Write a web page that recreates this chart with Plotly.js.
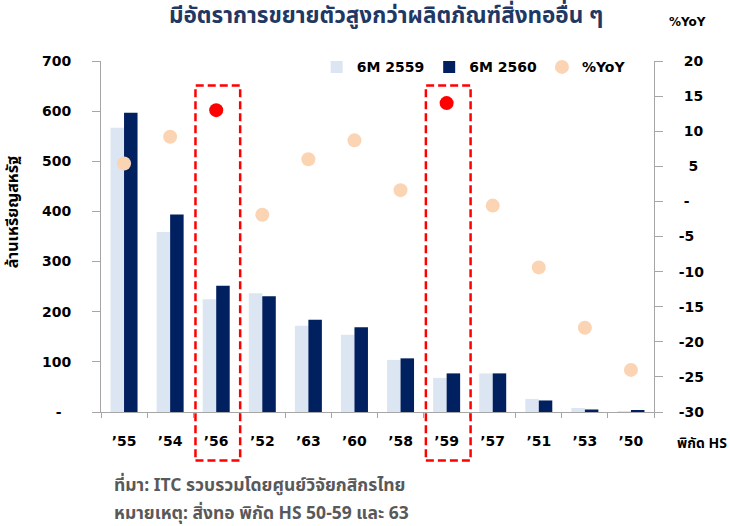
<!DOCTYPE html>
<html>
<head>
<meta charset="utf-8">
<script src="https://cdn.plot.ly/plotly-3.0.1.min.js"></script>
<style>html,body{margin:0;padding:0;background:#fff;}#chart{width:730px;height:526px;}</style>
</head>
<body>
<div id="chart"></div>
<script>
// ---- data ----
const categories = ["’55","’54","’56","’52","’63","’60","’58","’59","’57","’51","’53","’50"];
const values2559 = [567, 359, 225, 237, 172, 154, 104, 68, 77, 26, 8, 2];
const values2560 = [597, 394, 252, 231, 184, 169, 107, 77, 77, 23, 5, 3];
const yoy = [5.4, 9.2, 13.0, -1.9, 6.0, 8.7, 1.6, 14.0, -0.6, -9.4, -18.0, -24.0];
const highlighted = ["’56", "’59"];
const leftTickVals = [0, 100, 200, 300, 400, 500, 600, 700];
const leftTickText = ["-\u00a0\u00a0", "100", "200", "300", "400", "500", "600", "700"];
const rightTickVals = [-30, -25, -20, -15, -10, -5, 0, 5, 10, 15, 20];
const rightTickText = ["-30", "-25", "-20", "-15", "-10", "-5", "\u00a0-", "\u00a0\u00a05", "\u00a010", "\u00a015", "\u00a020"];
const seriesNames = ["6M 2559", "6M 2560", "%YoY"];

const numFont = "DejaVu Sans, Verdana, sans-serif";
const thaiFont = "Noto Sans Thai, Noto Sans, Tahoma, sans-serif";

const yoyColors = categories.map(c => highlighted.includes(c) ? "#ff0000" : "#fbd4b4");

const traces = [
  {type: "bar", name: seriesNames[0], x: categories, y: values2559,
   marker: {color: "#dce6f2"}, yaxis: "y"},
  {type: "bar", name: seriesNames[1], x: categories, y: values2560,
   marker: {color: "#002060"}, yaxis: "y"},
  {type: "scatter", mode: "markers", name: seriesNames[2], x: categories, y: yoy,
   marker: {color: yoyColors, size: 14}, yaxis: "y2"}
];

const shapes = highlighted.map(c => {
  const i = categories.indexOf(c);
  return {type: "rect", xref: "x", yref: "paper", x0: i - 0.45, x1: i + 0.52,
          y0: -0.138, y1: 0.93, line: {color: "#ff0000", width: 2.5, dash: "8px,4px"},
          fillcolor: "rgba(0,0,0,0)"};
});

const layout = {
  width: 730, height: 526,
  margin: {l: 101, r: 76, t: 61, b: 114, pad: 0},
  paper_bgcolor: "#ffffff", plot_bgcolor: "#ffffff",
  barmode: "group", bargap: 0.414, bargroupgap: 0,
  showlegend: true,
  legend: {orientation: "h", x: 0.39, xanchor: "left", y: 0.982, yanchor: "middle",
           font: {family: numFont, size: 14, weight: "bold", color: "#000"},
           bgcolor: "rgba(0,0,0,0)", traceorder: "normal", itemwidth: 30},
  title: {text: "มีอัตราการขยายตัวสูงกว่าผลิตภัณฑ์สิ่งทออื่น ๆ", x: 0.529, xanchor: "center",
          y: 0.971, yanchor: "middle",
          font: {family: thaiFont, size: 22.5, weight: "bold", color: "#1f3864"}},
  xaxis: {type: "category", range: [-0.5, 11.5], tickson: "boundaries", ticks: "outside", ticklen: 5,
          tickcolor: "#a6a6a6", showline: true, linecolor: "#a6a6a6", linewidth: 1,
          showgrid: false, zeroline: false, ticklabelstandoff: 16,
          tickfont: {family: numFont, size: 14, weight: "bold", color: "#000"}},
  yaxis: {range: [0, 700], tickvals: leftTickVals, ticktext: leftTickText,
          ticks: "outside", ticklen: 8, tickcolor: "#a6a6a6", showline: true,
          linecolor: "#a6a6a6", linewidth: 1, showgrid: false, zeroline: false,
          ticklabelstandoff: 18,
          tickfont: {family: numFont, size: 14, weight: "bold", color: "#000"}},
  yaxis2: {range: [-30, 20], overlaying: "y", side: "right", tickvals: rightTickVals,
           ticktext: rightTickText, ticks: "outside", ticklen: 8, tickcolor: "#a6a6a6",
           showline: true, linecolor: "#a6a6a6", linewidth: 1, showgrid: false,
           zeroline: false, ticklabelstandoff: 13,
           tickfont: {family: numFont, size: 14, weight: "bold", color: "#000"}},
  shapes: shapes,
  annotations: [
    {text: "ล้านเหรียญสหรัฐ", xref: "paper", yref: "paper", x: -0.159, y: 0.569,
     xanchor: "center", yanchor: "middle", textangle: -90, showarrow: false,
     font: {family: thaiFont, size: 16, weight: "bold", color: "#000"}},
    {text: "%YoY", xref: "paper", yref: "paper", x: 1.06, y: 1.11, xanchor: "center",
     yanchor: "middle", showarrow: false,
     font: {family: numFont, size: 12, weight: "bold", color: "#000"}},
    {text: "พิกัด HS", xref: "paper", yref: "paper", x: 1.087, y: -0.09, xanchor: "center",
     yanchor: "middle", showarrow: false,
     font: {family: thaiFont, size: 14, weight: "bold", color: "#000"}},
    {text: "ที่มา: ITC รวบรวมโดยศูนย์วิจัยกสิกรไทย", xref: "paper", yref: "paper",
     x: 0.02, y: -0.208, xanchor: "left", yanchor: "middle", showarrow: false,
     font: {family: thaiFont, size: 17.5, weight: "bold", color: "#595959"}},
    {text: "หมายเหตุ: สิ่งทอ พิกัด HS 50-59 และ 63", xref: "paper", yref: "paper",
     x: 0.02, y: -0.29, xanchor: "left", yanchor: "middle", showarrow: false,
     font: {family: thaiFont, size: 17.5, weight: "bold", color: "#595959"}}
  ]
};

Plotly.newPlot("chart", traces, layout, {displayModeBar: false, responsive: false});
</script>
</body>
</html>
